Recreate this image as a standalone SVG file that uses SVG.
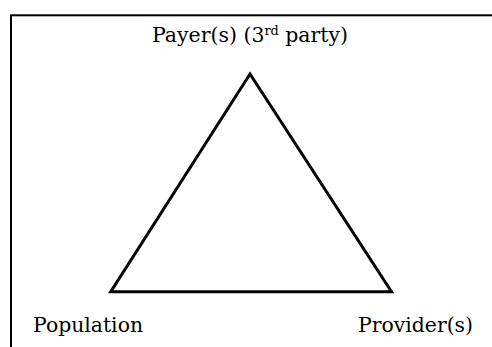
<svg xmlns="http://www.w3.org/2000/svg" width="492" height="347" viewBox="0 0 492 347">
<style>
text{font-family:'DejaVu Serif','Liberation Serif',serif;font-size:20px;fill:#000}
.sup{font-size:12.5px}
.edge{fill:none;stroke:#000;stroke-width:3;stroke-linejoin:miter}
</style>
<rect x="0" y="0" width="492" height="347" fill="#fff"/>
<rect id="frame" x="11" y="15.3" width="500" height="360" fill="none" stroke="#000" stroke-width="2"/>
<g id="connectors">
<path class="edge" d="M250,74 L110.7,291.7 L391.5,291.7 Z"/>
</g>
<g id="payer">
<text x="152" y="42.3" textLength="196" lengthAdjust="spacingAndGlyphs">Payer(s) (3<tspan class="sup" dy="-7.5">rd</tspan><tspan dy="7.5"> party)</tspan></text>
</g>
<g id="population">
<text x="33" y="331.7" textLength="110" lengthAdjust="spacingAndGlyphs">Population</text>
</g>
<g id="provider">
<text x="358" y="331.7" textLength="115" lengthAdjust="spacingAndGlyphs">Provider(s)</text>
</g>
</svg>
